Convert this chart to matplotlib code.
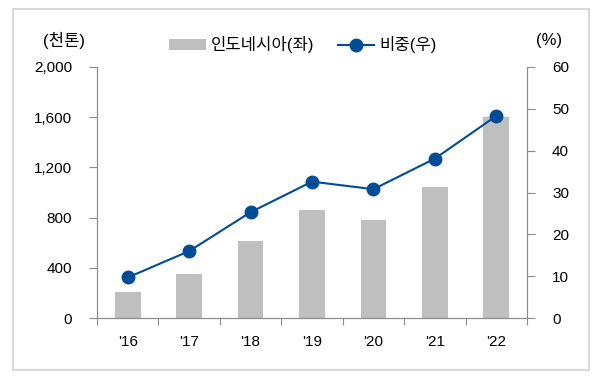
import numpy as np
import matplotlib
matplotlib.use('Agg')
from matplotlib import pyplot as plt
from matplotlib.patches import Rectangle

plt.rcParams['font.family'] = ['Liberation Sans', 'Noto Sans CJK KR']

# data
years = ["'16", "'17", "'18", "'19", "'20", "'21", "'22"]
volume = [205, 350, 610, 860, 780, 1045, 1605]      # 천톤 (left)
share = [9.7, 16.0, 25.3, 32.6, 30.8, 38.1, 48.3]    # % (right)

bar_color = '#bfbfbf'
line_color = '#004c97'
spine_color = '#8c8c8c'

fig = plt.figure(figsize=(6, 3.8), dpi=100)
ax = fig.add_axes([0.1617, 0.163, 0.7166, 0.6607])
ax2 = ax.twinx()

x = np.arange(len(years))
ax.bar(x, volume, width=0.42, color=bar_color, zorder=2, label='인도네시아(좌)')
ax2.plot(x, share, color=line_color, lw=1.5, marker='o', ms=9, zorder=3, label='비중(우)')

ax.set_xlim(-0.5, len(years) - 0.5)
ax.set_ylim(0, 2000)
ax.set_yticks(np.arange(0, 2001, 400))
ax.set_yticklabels(['{:,}'.format(v) for v in range(0, 2001, 400)])
ax2.set_ylim(0, 60)
ax2.set_yticks(np.arange(0, 61, 10))

# category ticks at boundaries
ax.set_xticks(np.arange(-0.5, len(years) - 0.4, 1))
ax.set_xticklabels([])
ax.set_xticks(x, minor=True)
ax.set_xticklabels(years, minor=True)
ax.tick_params(axis='x', which='major', length=5, color=spine_color, direction='out')
ax.tick_params(axis='x', which='minor', length=0, pad=12, labelsize=11)

ax.tick_params(axis='y', length=6, color=spine_color, pad=12, labelsize=11)
ax2.tick_params(axis='y', length=6, color=spine_color, pad=12, labelsize=11)

for a in (ax, ax2):
    a.spines['top'].set_visible(False)
    for s in ('left', 'right', 'bottom'):
        a.spines[s].set_color(spine_color)

fig.text(64 / 600, 1 - 40 / 380, '(천톤)', fontsize=12, ha='center', va='center')
fig.text(549 / 600, 1 - 40 / 380, '(%)', fontsize=12, ha='center', va='center')

h1, l1 = ax.get_legend_handles_labels()
h2, l2 = ax2.get_legend_handles_labels()
fig.legend(h1 + h2, l1 + l2, loc='center', bbox_to_anchor=(0.505, 0.882), ncol=2,
           frameon=False, fontsize=12, handlelength=2.2, handletextpad=0.3,
           columnspacing=1.4)

# outer frame
fig.patches.append(Rectangle((0.022, 0.026), 0.96, 0.95, transform=fig.transFigure,
                             fill=False, edgecolor='#d9d9d9', lw=1.5))

fig.savefig('out.png', dpi=100)
